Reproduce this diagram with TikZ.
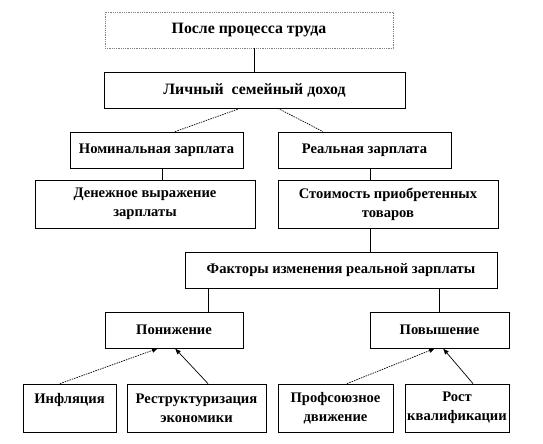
\documentclass[tikz,border=0pt]{standalone}
\usepackage{fontspec}
\setmainfont{Liberation Serif}
\usetikzlibrary{arrows.meta}
\tikzset{
  box/.style    = {draw, line width=0.8pt, rectangle, align=center,
                   inner sep=0pt, minimum height=36pt},
  tallbox/.style= {box, minimum height=48pt},
  link/.style   = {line width=0.8pt},
  dlink/.style  = {line width=0.7pt, dash pattern=on 1.5pt off 1pt},
  sig/.style    = {-{Latex[length=6pt,width=5pt]}, line width=0.7pt},
  dsig/.style   = {sig, dash pattern=on 1.5pt off 1pt},
}

\begin{document}
\begin{tikzpicture}[x=1pt,y=-1pt,font=\bfseries\fontsize{14.6}{19}\selectfont]
\useasboundingbox (0,0) rectangle (543,444);
% top levels
\node[box, draw=gray, densely dotted, minimum width=288pt, font=\bfseries\fontsize{15.8}{19}\selectfont] (after) at (249,30) {После процесса труда};
\node[box, minimum width=301pt, font=\bfseries\fontsize{15.8}{19}\selectfont] (income) at (254.5,90) {Личный~ семейный доход};
\node[box, minimum width=173pt] (nominal) at (156.5,150) {Номинальная зарплата};
\node[box, minimum width=173pt] (real) at (364.5,150) {Реальная зарплата};
\node[tallbox, minimum width=220pt] (money) at (145,204) {Денежное выражение\\зарплаты};
\node[tallbox, minimum width=220pt] (goods) at (388,204) {Стоимость приобретенных\\товаров};
\node[box, minimum width=312pt] (factors) at (341,270) {Факторы изменения реальной зарплаты};
% factors
\node[box, minimum width=138pt] (down) at (174,330) {Понижение};
\node[box, minimum width=139pt] (up) at (439.5,330) {Повышение};
\node[tallbox, minimum width=93pt] (infl) at (69.5,408) {Инфляция\\\mbox{}};
\node[tallbox, minimum width=139pt] (restr) at (196.5,408) {Реструктуризация\\экономики};
\node[tallbox, minimum width=115pt] (union) at (335.5,408) {Профсоюзное\\движение};
\node[tallbox, minimum width=104pt] (skill) at (457,408) {Рост\\квалификации};

\draw[link] (income.north) -- (income.north |- after.south);
\draw[dlink] ([xshift=-14.5]income.south) -- ([xshift=18.5]nominal.north);
\draw[dlink] ([xshift=23.5]income.south) -- ([xshift=-41.5]real.north);
\draw[link] ([xshift=5.5]nominal.south) -- ([xshift=5.5]nominal.south |- money.north);
\draw[link] ([xshift=5.5]real.south) -- ([xshift=5.5]real.south |- goods.north);
\draw[link] ([xshift=-18]goods.south) -- ([xshift=-18]goods.south |- factors.north);
\draw[link] ([xshift=34]down.north |- factors.south) -- ([xshift=34]down.north);
\draw[link] (up.north |- factors.south) -- (up.north);

\draw[dsig] ([xshift=-9.5]infl.north) -- ([xshift=-16]down.south);
\draw[sig] ([xshift=11.5]restr.north) -- ([xshift=1]down.south);
\draw[dsig] ([xshift=11.5]union.north) -- ([xshift=-4.5]up.south);
\draw[sig] ([xshift=16]skill.north) -- ([xshift=3.5]up.south);
\end{tikzpicture}
\end{document}
